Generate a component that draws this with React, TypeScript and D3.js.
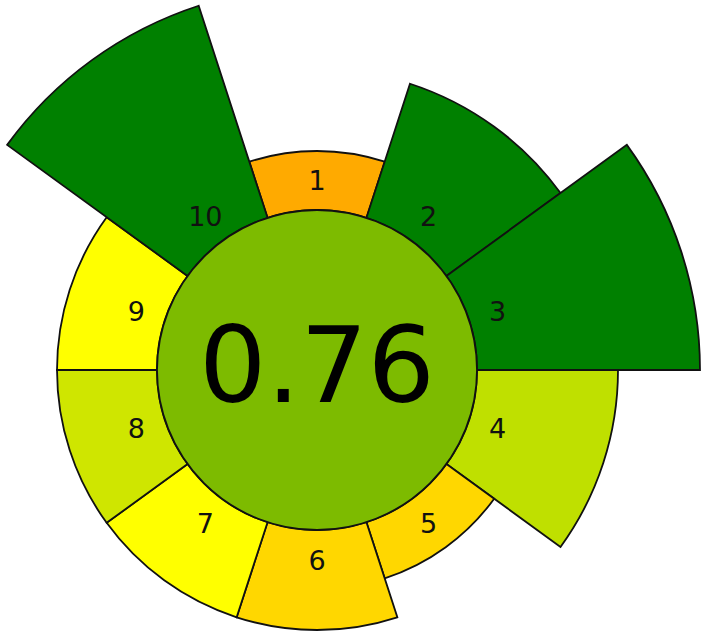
import React, { useRef, useEffect } from 'react';
import * as d3 from 'd3';

// criteria 1..10, clockwise from the top
const labels = ['1', '2', '3', '4', '5', '6', '7', '8', '9', '10'];
const weights = [1, 3, 5, 3, 1, 2, 2, 2, 2, 5];
const colors = [
  '#ffaa00', '#008000', '#008000', '#bfe000', '#ffd700',
  '#ffd700', '#ffff00', '#cfe600', '#ffff00', '#008000',
];
const score = '0.76';
const scoreColor = '#7dbb00';

function App() {
  const ref = useRef<SVGSVGElement>(null);

  const width = 709;
  const height = 642;
  const cx = 317;
  const cy = 370;
  const innerR = 160;

  useEffect(() => {
    if (!ref.current) return;
    const svg = d3.select(ref.current);
    svg.selectAll('*').remove();

    const g = svg.append('g').attr('transform', `translate(${cx},${cy})`);

    const rScale = d3.scaleLinear().domain([1, 5]).range([219, 383]);
    const step = (2 * Math.PI) / labels.length;

    const data = labels.map((l, i) => ({
      label: l,
      weight: weights[i],
      color: colors[i],
      start: -step / 2 + i * step,
      end: step / 2 + i * step,
    }));

    const arc = d3
      .arc<any>()
      .innerRadius(innerR)
      .outerRadius((d) => rScale(d.weight))
      .startAngle((d) => d.start)
      .endAngle((d) => d.end);

    g.selectAll('path.seg')
      .data(data)
      .enter()
      .append('path')
      .attr('class', 'seg')
      .attr('d', arc)
      .attr('fill', (d) => d.color)
      .attr('stroke', '#111')
      .attr('stroke-width', 1.8)
      .attr('stroke-linejoin', 'miter');

    const labelR = 190;
    g.selectAll('text.lbl')
      .data(data)
      .enter()
      .append('text')
      .attr('class', 'lbl')
      .attr('x', (d) => labelR * Math.sin((d.start + d.end) / 2))
      .attr('y', (d) => -labelR * Math.cos((d.start + d.end) / 2))
      .attr('text-anchor', 'middle')
      .attr('dominant-baseline', 'central')
      .attr('font-family', 'DejaVu Sans')
      .attr('font-size', 27)
      .attr('fill', '#111')
      .text((d) => d.label);

    g.append('circle')
      .attr('r', innerR)
      .attr('fill', scoreColor)
      .attr('stroke', '#111')
      .attr('stroke-width', 1.8);

    g.append('text')
      .attr('x', 0)
      .attr('y', 32)
      .attr('text-anchor', 'middle')
      .attr('font-family', 'DejaVu Sans')
      .attr('font-size', 106)
      .attr('fill', '#000')
      .text(score);
  }, []);

  return (
    <svg
      ref={ref}
      width={width}
      height={height}
      style={{ position: 'absolute', left: 0, top: 0, display: 'block', background: '#fff' }}
    />
  );
}

export default App;
